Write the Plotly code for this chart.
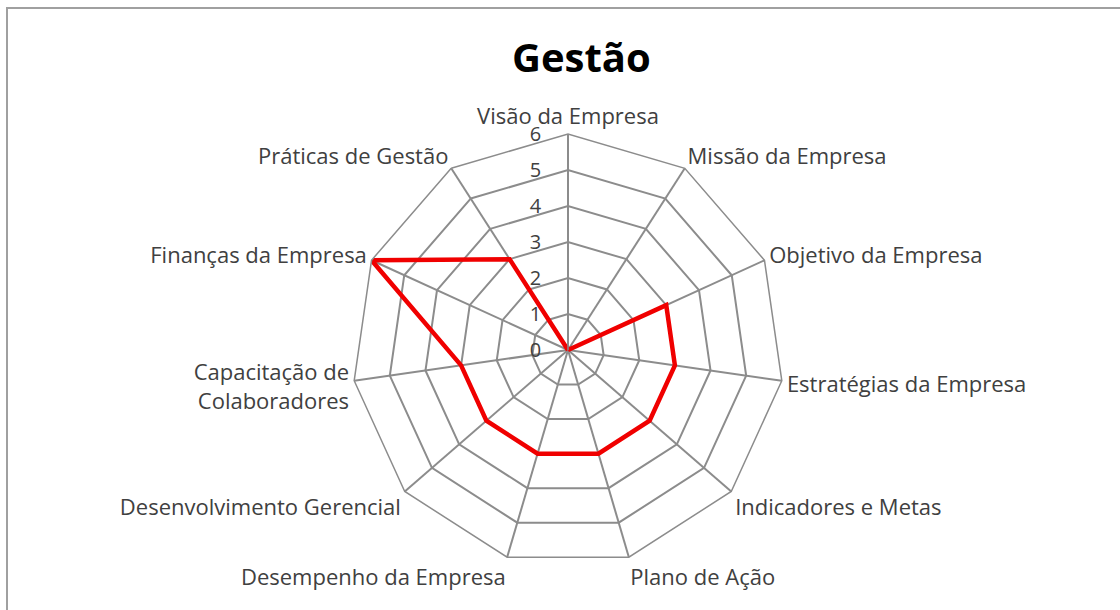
import plotly.graph_objects as go

categories = [
    "Visão da Empresa",
    "Missão da Empresa",
    "Objetivo da Empresa",
    "Estratégias da Empresa",
    "Indicadores e Metas",
    "Plano de Ação",
    "Desempenho da Empresa",
    "Desenvolvimento Gerencial",
    "Capacitação de<br>Colaboradores",
    "Finanças da Empresa",
    "Práticas de Gestão",
]
values = [0, 0, 3, 3, 3, 3, 3, 3, 3, 6, 3]
radial_ticks = [0, 1, 2, 3, 4, 5, 6]

W, H = 1120, 610
cx, cy, R = 568, 350, 216

fig = go.Figure()
fig.add_trace(go.Scatterpolar(
    r=values + values[:1],
    theta=categories + categories[:1],
    mode="lines",
    line=dict(color="#f00000", width=4.5),
    showlegend=False,
    hoverinfo="skip",
))

grid_col = "#8c8c8c"
label_font = dict(family="Open Sans, sans-serif", size=22, color="#404040")

fig.update_layout(
    width=W, height=H,
    margin=dict(l=0, r=0, t=0, b=0),
    paper_bgcolor="white",
    plot_bgcolor="white",
    font=label_font,
    polar=dict(
        domain=dict(x=[(cx - R) / W, (cx + R) / W],
                    y=[(H - cy - R) / H, (H - cy + R) / H]),
        gridshape="linear",
        bgcolor="white",
        radialaxis=dict(
            range=[0, 6],
            tickvals=radial_ticks,
            ticktext=[str(v) for v in radial_ticks],
            angle=90,
            side="counterclockwise",
            showline=True,
            linecolor=grid_col,
            linewidth=1.5,
            gridcolor=grid_col,
            gridwidth=1.5,
            ticks="outside",
            ticklen=19,
            tickcolor="rgba(0,0,0,0)",
            tickangle=90,
            tickfont=dict(family="Open Sans, sans-serif", size=20, color="#404040"),
        ),
        angularaxis=dict(
            direction="clockwise",
            rotation=90,
            showline=True,
            linecolor=grid_col,
            linewidth=1.5,
            gridcolor=grid_col,
            gridwidth=1.5,
            ticks="",
            tickfont=label_font,
        ),
    ),
    annotations=[dict(
        text="<b>Gestão</b>",
        x=581 / W, y=1 - 57 / H,
        xref="paper", yref="paper",
        xanchor="center", yanchor="middle",
        showarrow=False,
        font=dict(family="Open Sans, sans-serif", size=40, color="black"),
    )],
    shapes=[dict(
        type="rect", xref="paper", yref="paper",
        x0=7 / W, x1=1.05, y0=-0.05, y1=1 - 8 / H,
        line=dict(color="#a0a0a0", width=2),
        layer="below",
    )],
)

fig.write_html("out.html")
